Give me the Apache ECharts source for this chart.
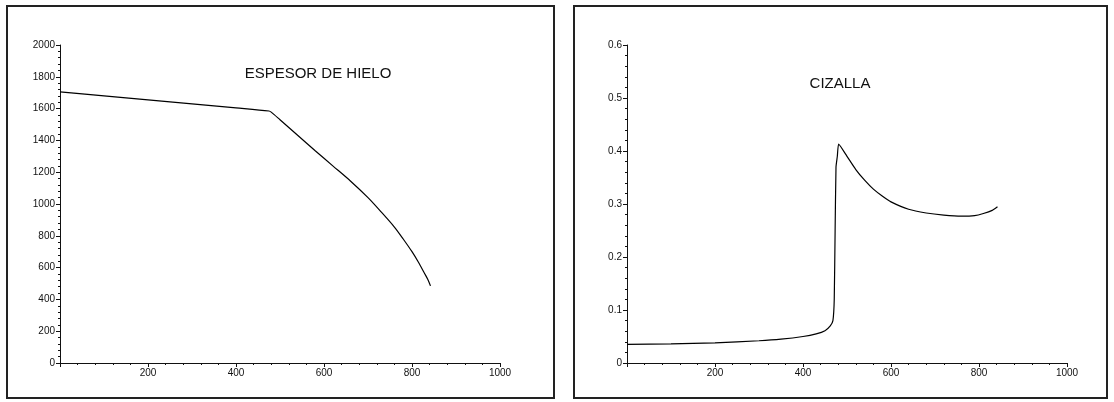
<!DOCTYPE html>
<html>
<head>
<meta charset="utf-8">
<script src="https://cdn.jsdelivr.net/npm/echarts@6/dist/echarts.min.js"></script>
<style>html,body{margin:0;padding:0;background:#fff}#c{width:1114px;height:402px}</style>
</head>
<body>
<div id="c"></div>
<script>
// Panel 1: ESPESOR DE HIELO
var iceX = [0, 100, 200, 300, 400, 475, 480, 500, 540, 580, 620, 660, 700, 730, 760, 780, 800, 815, 828, 836, 842];
var iceY = [1705, 1680, 1655, 1630, 1605, 1585, 1578, 1530, 1432, 1335, 1240, 1145, 1040, 950, 855, 780, 700, 632, 566, 525, 485];
// Panel 2: CIZALLA
var shearX = [0, 100, 200, 300, 350, 400, 430, 450, 462, 468, 471, 473, 475, 478, 481, 500, 520, 540, 560, 580, 600, 640, 680, 720, 760, 790, 810, 830, 842];
var shearY = [0.035, 0.036, 0.038, 0.042, 0.045, 0.050, 0.055, 0.061, 0.070, 0.080, 0.120, 0.250, 0.370, 0.390, 0.413, 0.390, 0.365, 0.345, 0.328, 0.315, 0.304, 0.290, 0.283, 0.279, 0.277, 0.278, 0.282, 0.288, 0.295];
var xTicks = [0, 200, 400, 600, 800, 1000];
var iceTicks = [0, 200, 400, 600, 800, 1000, 1200, 1400, 1600, 1800, 2000];
var shearTicks = [0, 0.1, 0.2, 0.3, 0.4, 0.5, 0.6];
var titles = ['ESPESOR DE HIELO', 'CIZALLA'];

function pairs(xs, ys) { return xs.map(function (x, i) { return [x, ys[i]]; }); }

var FONT = '"Liberation Sans", Arial, sans-serif';
var axisCommon = {
  axisLine: { show: true, onZero: false, lineStyle: { color: '#111', width: 1 } },
  axisTick: { show: true, length: 4, lineStyle: { color: '#111', width: 1 } },
  minorTick: { show: true, splitNumber: 5, length: 2, lineStyle: { color: '#111', width: 1 } },
  splitLine: { show: false },
  minorSplitLine: { show: false }
};
function xAx(gi) {
  return Object.assign({}, axisCommon, {
    type: 'value', gridIndex: gi, min: xTicks[0], max: xTicks[xTicks.length - 1], interval: xTicks[1] - xTicks[0],
    axisLabel: { color: '#111', fontSize: 10, fontFamily: FONT, margin: 5,
      formatter: function (v) { return v === 0 ? '' : String(v); } }
  });
}
function yAx(gi, ticks) {
  return Object.assign({}, axisCommon, {
    type: 'value', gridIndex: gi, min: ticks[0], max: ticks[ticks.length - 1], interval: ticks[1] - ticks[0],
    axisLabel: { color: '#111', fontSize: 10, fontFamily: FONT, margin: 5,
      formatter: function (v) { return String(v); } }
  });
}

var chart = echarts.init(document.getElementById('c'), null, { renderer: 'canvas' });
chart.setOption({
  animation: false,
  backgroundColor: '#fff',
  title: [
    { text: titles[0], left: 313, top: 61, textAlign: 'center', textStyle: { fontSize: 15, fontWeight: 'normal', color: '#111', fontFamily: FONT } },
    { text: titles[1], left: 835, top: 71, textAlign: 'center', textStyle: { fontSize: 15, fontWeight: 'normal', color: '#111', fontFamily: FONT } }
  ],
  graphic: [
    { type: 'rect', shape: { x: 7, y: 6, width: 547, height: 392 }, style: { fill: 'none', stroke: '#222', lineWidth: 2 } },
    { type: 'rect', shape: { x: 574, y: 6, width: 533, height: 392 }, style: { fill: 'none', stroke: '#222', lineWidth: 2 } }
  ],
  grid: [
    { left: 60, top: 45, width: 440, height: 318 },
    { left: 627, top: 45, width: 440, height: 318 }
  ],
  xAxis: [xAx(0), xAx(1)],
  yAxis: [yAx(0, iceTicks), yAx(1, shearTicks)],
  series: [
    { type: 'line', xAxisIndex: 0, yAxisIndex: 0, data: pairs(iceX, iceY), showSymbol: false, symbol: 'none',
      lineStyle: { color: '#000', width: 1.2 }, smooth: 0.3 },
    { type: 'line', xAxisIndex: 1, yAxisIndex: 1, data: pairs(shearX, shearY), showSymbol: false, symbol: 'none',
      lineStyle: { color: '#000', width: 1.2 }, smooth: 0.15 }
  ]
});
</script>
</body>
</html>
